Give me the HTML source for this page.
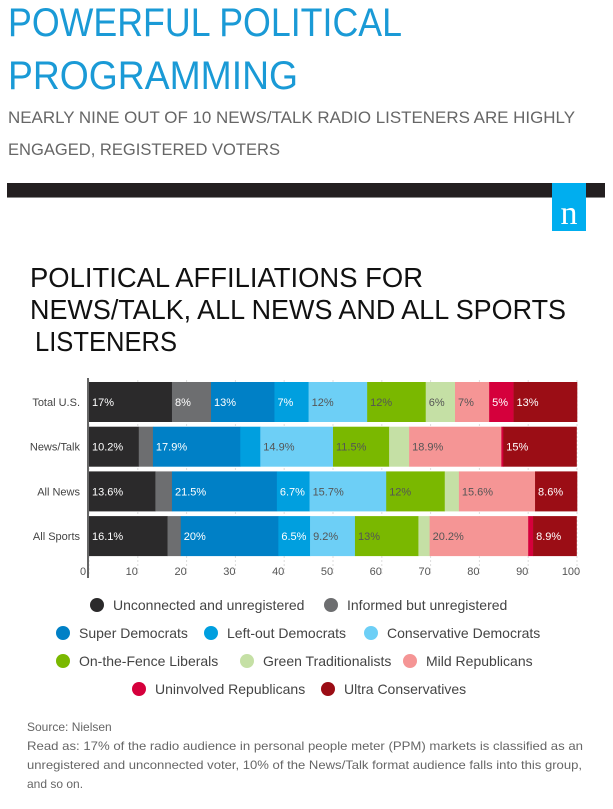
<!DOCTYPE html>
<html><head><meta charset="utf-8"><style>
html,body{margin:0;padding:0;background:#fff;}
svg{display:block;font-family:"Liberation Sans",sans-serif;}
</style></head><body>
<svg id="page" width="613" height="809" viewBox="0 0 613 809">
<text x="8" y="36" font-size="40" fill="#1a9ad6" textLength="394" lengthAdjust="spacingAndGlyphs">POWERFUL POLITICAL</text>
<text x="8" y="89" font-size="40" fill="#1a9ad6" textLength="290" lengthAdjust="spacingAndGlyphs">PROGRAMMING</text>
<text x="8" y="123" font-size="17" fill="#666" textLength="567" lengthAdjust="spacingAndGlyphs">NEARLY NINE OUT OF 10 NEWS/TALK RADIO LISTENERS ARE HIGHLY</text>
<text x="8" y="155" font-size="17" fill="#666" textLength="272" lengthAdjust="spacingAndGlyphs">ENGAGED, REGISTERED VOTERS</text>
<rect x="7" y="183" width="598" height="14" fill="#231f20"/>
<rect x="7" y="197" width="598" height="1" fill="#888"/>
<rect x="552" y="183" width="34" height="48" fill="#00aeef"/>
<text x="569" y="224" font-size="34" fill="#fff" text-anchor="middle" font-family="Liberation Serif, serif">n</text>
<text x="30" y="287" font-size="28" fill="#111" textLength="393" lengthAdjust="spacingAndGlyphs">POLITICAL AFFILIATIONS FOR</text>
<text x="30" y="319" font-size="28" fill="#111" textLength="536" lengthAdjust="spacingAndGlyphs">NEWS/TALK, ALL NEWS AND ALL SPORTS</text>
<text x="35" y="351" font-size="28" fill="#111" textLength="142" lengthAdjust="spacingAndGlyphs">LISTENERS</text>
<g id="chart"></g>
<g id="legend"></g>
<g font-size="12" fill="#666">
<text x="27" y="731">Source: Nielsen</text>
<text x="27" y="750" textLength="556" lengthAdjust="spacingAndGlyphs">Read as: 17% of the radio audience in personal people meter (PPM) markets is classified as an</text>
<text x="27" y="769" textLength="555" lengthAdjust="spacingAndGlyphs">unregistered and unconnected voter, 10% of the News/Talk format audience falls into this group,</text>
<text x="27" y="788">and so on.</text>
</g>
</svg>
<script>
var categories = ["Total U.S.", "News/Talk", "All News", "All Sports"];
var seriesNames = ["Unconnected and unregistered","Informed but unregistered","Super Democrats","Left-out Democrats","Conservative Democrats","On-the-Fence Liberals","Green Traditionalists","Mild Republicans","Uninvolved Republicans","Ultra Conservatives"];
var totalUS = [17, 8, 13, 7, 12, 12, 6, 7, 5, 13];
var newsTalk = [10.2, 2.9, 17.9, 4.1, 14.9, 11.5, 4.1, 18.9, 0.4, 15];
var allNews = [13.6, 3.4, 21.5, 6.7, 15.7, 12, 2.9, 15.6, 0, 8.6];
var allSports = [16.1, 2.7, 20, 6.5, 9.2, 13, 2.3, 20.2, 1.0, 8.9];
var rowLabels = [
 ["17%","8%","13%","7%","12%","12%","6%","7%","5%","13%"],
 ["10.2%","","17.9%","","14.9%","11.5%","","18.9%","","15%"],
 ["13.6%","","21.5%","6.7%","15.7%","12%","","15.6%","","8.6%"],
 ["16.1%","","20%","6.5%","9.2%","13%","","20.2%","","8.9%"]];
var xTicks = [0,10,20,30,40,50,60,70,80,90,100];
var colors = ["#2b2a2b","#6d6e70","#0080c6","#009fdf","#6dcff6","#7ab800","#c5e0a5","#f59595","#d5003c","#9b0d15"];
var labelColors = ["#fff","#fff","#fff","#fff","#555","#555","#555","#555","#fff","#fff"];
var rows = [totalUS, newsTalk, allNews, allSports];
var NS="http://www.w3.org/2000/svg";
function x(v){return 89 + v*4.88;}
function yRow(i){return 382 + i*44.7;}
var bh = 40;
var chart=document.getElementById('chart');
function mk(tag,attrs,parent){var e=document.createElementNS(NS,tag);for(var k in attrs)e.setAttribute(k,attrs[k]);parent.appendChild(e);return e;}
xTicks.forEach(function(t){
 var l=mk('line',{x1:x(t),x2:x(t),y1:380,y2:576,stroke:'#ddd','stroke-dasharray':'2,2'},chart);
 
 
 var tx=mk('text',{x:x(t)-6,y:575,'font-size':11,fill:'#555','text-anchor':'middle'},chart);
 tx.textContent=t;
 
 
});
rows.forEach(function(vals,i){
 var cum=0, y=yRow(i);
 var lab=mk('text',{x:80,y:y+bh/2+4,'font-size':11,fill:'#444','text-anchor':'end'},chart);
 lab.textContent=categories[i];
 
 
 vals.forEach(function(v,j){
  if(v>0){
   var r=mk('rect',{x:x(cum),y:y,width:x(cum+v)-x(cum)+0.3,height:bh,fill:colors[j]},chart);
   
   
  }
  if(rowLabels[i][j]){
   var t=mk('text',{x:x(cum)+3,y:y+bh/2+4,'font-size':11,fill:labelColors[j]},chart);
   t.textContent=rowLabels[i][j];
   
   
  }
  cum+=v;
 });
});
var ax=mk('line',{x1:88,x2:88,y1:378,y2:578,stroke:'#666','stroke-width':2},chart);


var legendPos=[[97,605],[331,605],[63,633],[211,633],[371,633],[63,661],[247,661],[410,661],[139,689],[328,689]];
var lg=document.getElementById('legend');
seriesNames.forEach(function(n,j){
 var p=legendPos[j];
 var c=mk('circle',{cx:p[0],cy:p[1],r:7,fill:colors[j]},lg);
 
 
 var t=mk('text',{x:p[0]+16,y:p[1]+5,'font-size':14,fill:'#444'},lg);
 t.textContent=n;
 
 
});
</script>
</body></html>
